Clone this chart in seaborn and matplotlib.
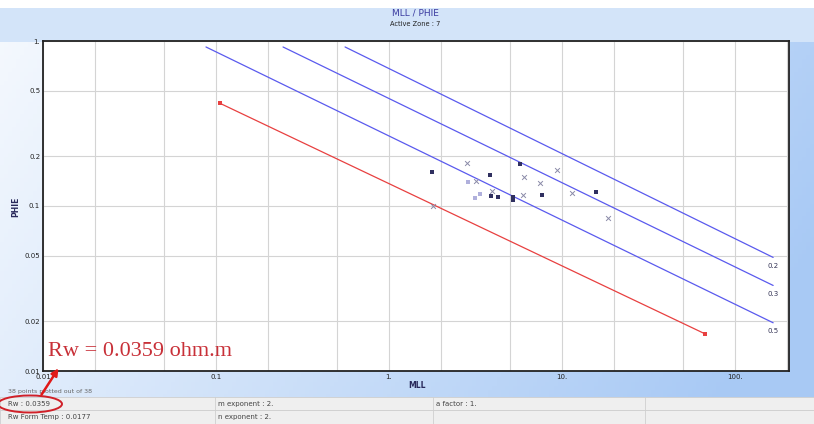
import numpy as np
import pandas as pd
import matplotlib.pyplot as plt
import seaborn as sns
from matplotlib.patches import Ellipse, Rectangle, FancyArrowPatch

# Sw lines (blue): start/end in (MLL, PHIE)
sw_labels = ["0.2", "0.3", "0.5"]
sw_rt_start = [0.557, 0.244, 0.0875]
sw_phi_start = [0.92, 0.92, 0.92]
sw_rt_end = [166, 166, 166]
sw_phi_end = [0.0488, 0.033, 0.0196]

# Rw line (red)
rw_rt = [0.105, 67]
rw_phi = [0.42, 0.0168]

# data points
dot_rt = [1.77, 3.84, 3.89, 4.27, 5.21, 5.21, 5.72, 7.66, 15.7]
dot_phi = [0.160, 0.155, 0.115, 0.113, 0.113, 0.109, 0.180, 0.117, 0.122]
light_rt = [3.36, 3.14, 2.86]
light_phi = [0.118, 0.112, 0.140]
cross_rt = [2.82, 3.18, 3.94, 5.95, 6.03, 7.46, 9.35, 11.4, 18.5, 1.80]
cross_phi = [0.183, 0.142, 0.123, 0.117, 0.150, 0.138, 0.166, 0.120, 0.0845, 0.100]

x_ticks = [0.01, 0.1, 1, 10, 100]
x_ticklabels = ["0.01", "0.1", "1.", "10.", "100."]
y_ticks = [0.01, 0.02, 0.05, 0.1, 0.2, 0.5, 1]
y_ticklabels = ["0.01", "0.02", "0.05", "0.1", "0.2", "0.5", "1."]

sns.set_theme(style="white")
plt.rcParams['font.family'] = ['DejaVu Sans']

W, H = 814, 424
fig = plt.figure(figsize=(W / 100, H / 100), dpi=100)


def fx(px):
    return px / W


def fy(py):
    return 1 - py / H


# background gradient
bg = fig.add_axes([0, 0, 1, 1], zorder=-5)
xs = np.linspace(0, 1, 200)
ys = np.linspace(0, 1, 100)
XX, YY = np.meshgrid(xs, ys)
t = np.clip(0.1 + 0.75 * XX + 0.25 * YY, 0, 1)
t[YY < 40 / H] = 0.5
t[YY < 7 / H] = 0.0
white = np.array([1.0, 1.0, 1.0])
blue = np.array([0.66, 0.79, 0.96])
img = white[None, None, :] * (1 - t[..., None]) + blue[None, None, :] * t[..., None]
bg.imshow(img, aspect='auto', extent=[0, 1, 1, 0])
bg.set_xlim(0, 1)
bg.set_ylim(1, 0)
bg.axis('off')

ax = fig.add_axes([fx(43), fy(371), fx(789) - fx(43), fy(41) - fy(371)])
ax.set_facecolor('white')
ax.set_xscale('log')
ax.set_yscale('log')

for i in range(len(sw_labels)):
    seg = pd.DataFrame({'rt': [sw_rt_start[i], sw_rt_end[i]],
                        'phi': [sw_phi_start[i], sw_phi_end[i]]})
    sns.lineplot(data=seg, x='rt', y='phi', ax=ax, color='#5a5aee', linewidth=0.9,
                 sort=False, estimator=None)
    ax.text(sw_rt_end[i], sw_phi_end[i] * 0.93, sw_labels[i], fontsize=5,
            color='#333355', ha='center', va='top')

rw = pd.DataFrame({'rt': rw_rt, 'phi': rw_phi})
sns.lineplot(data=rw, x='rt', y='phi', ax=ax, color='#e84040', linewidth=0.9,
             marker='s', markersize=2.5, markeredgewidth=0, sort=False, estimator=None)

sns.scatterplot(x=cross_rt, y=cross_phi, ax=ax, marker='x', s=12, color='#8a8aa8',
                linewidth=0.7, zorder=5)
sns.scatterplot(x=dot_rt, y=dot_phi, ax=ax, marker='s', s=5, color='#303060',
                linewidth=0, zorder=5)
sns.scatterplot(x=light_rt, y=light_phi, ax=ax, marker='s', s=8, color='#b0b0dc',
                linewidth=0, zorder=5)

ax.set_xticks(x_ticks)
ax.set_xticklabels(x_ticklabels)
ax.set_xticks([m * d for d in [0.01, 0.1, 1, 10, 100] for m in (2, 5)], minor=True)
ax.set_yticks(y_ticks)
ax.set_yticklabels(y_ticklabels)
ax.yaxis.set_minor_locator(plt.NullLocator())
ax.xaxis.set_minor_formatter(plt.NullFormatter())
ax.set_xlim(0.01, 205)
ax.set_ylim(0.01, 1)
ax.tick_params(axis='both', which='both', length=0, labelsize=5, colors='#222222', pad=2)
ax.grid(True, which='both', color='#d4d4d4', linewidth=0.8)
ax.set_axisbelow(True)
for s in ax.spines.values():
    s.set_color('#222222')
    s.set_linewidth(1.3)
ax.set_xlabel('')
ax.set_ylabel('')

# titles and axis names
fig.text(fx(415), fy(13), 'MLL / PHIE', fontsize=6.5, color='#3a3aa0', ha='center', va='center')
fig.text(fx(415), fy(24), 'Active Zone : 7', fontsize=4.8, color='#222222', ha='center', va='center')
fig.text(fx(417), fy(385), 'MLL', fontsize=5.5, color='#28285a', ha='center', va='center',
         fontweight='bold')
fig.text(fx(16), fy(207), 'PHIE', fontsize=5.5, color='#28285a', ha='center', va='center',
         rotation=90, fontweight='bold')

# bottom table
fig.text(fx(8), fy(391), '38 points plotted out of 38', fontsize=4.5, color='#666666', va='center')
for top, bot in [(397, 410), (410, 424)]:
    fig.patches.append(Rectangle((0, fy(bot)), 1, fy(top) - fy(bot), transform=fig.transFigure,
                                 facecolor='#efefef', edgecolor='#cfcfcf', linewidth=0.6))
for xc in [215, 433, 645]:
    fig.add_artist(plt.Line2D([fx(xc), fx(xc)], [fy(424), fy(397)], transform=fig.transFigure,
                              color='#cfcfcf', linewidth=0.6))
table_cells = [(8, 404, 'Rw : 0.0359'), (218, 404, 'm exponent : 2.'), (436, 404, 'a factor : 1.'),
               (8, 417, 'Rw Form Temp : 0.0177'), (218, 417, 'n exponent : 2.')]
for px, py, s in table_cells:
    fig.text(fx(px), fy(py), s, fontsize=5, color='#444444', va='center')

# red annotation
fig.text(fx(48), fy(351), 'Rw = 0.0359 ohm.m', fontsize=16, color='#c83038',
         family=['Liberation Serif', 'DejaVu Serif'], va='center', zorder=20)
fig.add_artist(Ellipse((fx(30), fy(404)), fx(64), fy(0) - fy(17), transform=fig.transFigure,
                       fill=False, edgecolor='#d02028', linewidth=1.4, zorder=20))
fig.add_artist(FancyArrowPatch((fx(40), fy(397)), (fx(60), fy(366)), transform=fig.transFigure,
                               arrowstyle='-|>', mutation_scale=10, color='#e01818',
                               linewidth=1.8, zorder=20))

fig.savefig('out.png', dpi=100)
